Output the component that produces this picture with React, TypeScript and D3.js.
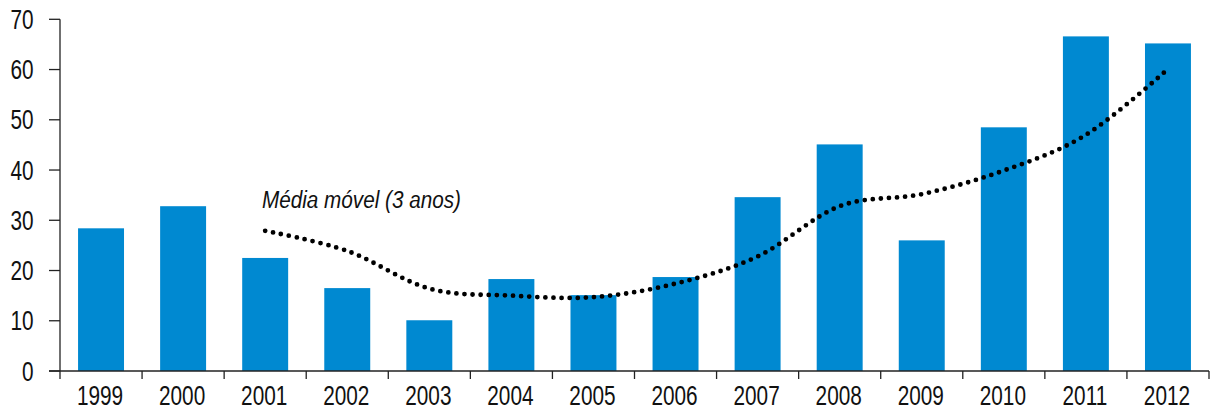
import React, { useEffect } from "react";
import * as d3 from "d3";

const years = ["1999","2000","2001","2002","2003","2004","2005","2006","2007","2008","2009","2010","2011","2012"];
const values = [28.4, 32.8, 22.5, 16.5, 10.1, 18.3, 15.1, 18.7, 34.6, 45.1, 26.0, 48.5, 66.6, 65.2];
const maYears = ["2001","2002","2003","2004","2005","2006","2007","2008","2009","2010","2011","2012"];
const maValues = [27.9, 23.9, 16.4, 15.0, 14.7, 17.4, 22.8, 32.8, 35.2, 39.9, 47.0, 60.1];
const yTicks = [0, 10, 20, 30, 40, 50, 60, 70];
const maLabel = "Média móvel (3 anos)";

const W = 1210, H = 407;
const FONT = "'Liberation Sans', Arial, sans-serif";
const SX = 0.77; // condensed look

function CText(props: { x: number; y: number; anchor?: string; size: number; italic?: boolean; children: React.ReactNode; dy?: string }) {
  const { x, y, anchor = "start", size, italic, children, dy } = props;
  return (
    <text transform={`translate(${x},${y}) scale(${SX},1)`} textAnchor={anchor} fontSize={size}
      fontStyle={italic ? "italic" : "normal"} fill="#111" dy={dy}>{children}</text>
  );
}

export default function App() {
  useEffect(() => {
    document.body.style.margin = "0";
  }, []);

  const x = d3.scaleBand<string>().domain(years).range([60, 1209]).paddingInner(0.44).paddingOuter(0.22);
  const xb = d3.scaleBand<string>().domain(years).range([60, 1209]);
  const y = d3.scaleLinear().domain([0, 70]).range([371, 19.3]);

  const line = d3.line<number>()
    .x((_, i) => (xb(maYears[i]) as number) + xb.bandwidth() / 2)
    .y((d) => y(d))
    .curve(d3.curveCatmullRom.alpha(0));

  const axisColor = "#222";

  return (
    <svg width={W} height={H} style={{ display: "block" }} fontFamily={FONT}>
      {values.map((v, i) => (
        <rect key={years[i]} x={x(years[i])} y={y(v)} width={x.bandwidth()} height={y(0) - y(v)} fill="#0089D1" />
      ))}
      <path d={line(maValues) || ""} fill="none" stroke="#000" strokeWidth={4.8}
        strokeLinecap="round" strokeDasharray="0 8.1" />
      <text x={262} y={207.5} fontSize={23.5} fontStyle="italic" fill="#111"
        textLength={199} lengthAdjust="spacingAndGlyphs">{maLabel}</text>

      {/* y axis */}
      <line x1={60} x2={60} y1={y(70)} y2={379} stroke={axisColor} strokeWidth={1.3} />
      {yTicks.map((t) => (
        <g key={t}>
          <line x1={49} x2={60} y1={y(t)} y2={y(t)} stroke={axisColor} strokeWidth={1.3} />
          <CText x={33.5} y={y(t) + 9.7} anchor="end" size={27}>{t}</CText>
        </g>
      ))}
      {/* x axis */}
      <line x1={49} x2={1209} y1={y(0)} y2={y(0)} stroke={axisColor} strokeWidth={1.3} />
      {years.map((yr) => (
        <line key={"t" + yr} x1={(xb(yr) as number) + xb.bandwidth()} x2={(xb(yr) as number) + xb.bandwidth()}
          y1={y(0)} y2={379} stroke={axisColor} strokeWidth={1.3} />
      ))}
      {years.map((yr) => (
        <CText key={"l" + yr} x={(xb(yr) as number) + xb.bandwidth() / 2 - 1} y={405} anchor="middle" size={27}>{yr}</CText>
      ))}
    </svg>
  );
}
